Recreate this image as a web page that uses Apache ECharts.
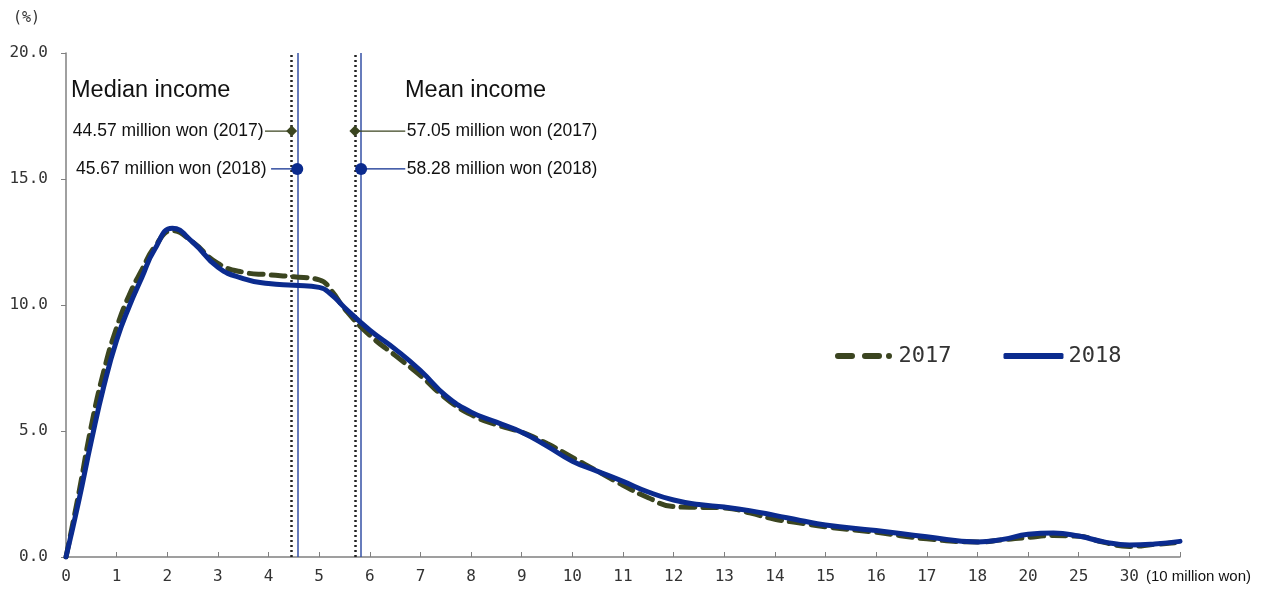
<!DOCTYPE html>
<html>
<head>
<meta charset="utf-8">
<script src="https://cdn.jsdelivr.net/npm/echarts@6/dist/echarts.min.js"></script>
<style>html,body{margin:0;padding:0;background:#fff}#c{width:1262px;height:589px}</style>
</head>
<body>
<div id="c"></div>
<script>
// x positions are category-index positions along the income axis
const xLabels = ['0','1','2','3','4','5','6','7','8','9','10','11','12','13','14','15','16','17','18','20','25','30',''];
const yTicks = [0, 5, 10, 15, 20];
const xs = [0,0.25,0.5,0.75,1,1.25,1.5,1.75,2.1,2.5,3,3.5,4,4.5,5,5.25,5.5,6,6.5,7,7.5,8,8.5,9,9.5,10,10.5,11,11.5,12,12.5,13,13.5,14,14.5,15,16,17,18,18.5,19,19.5,20,20.5,21,21.5,22];
const values2017 = [0,2.5,5.2,7.4,9.1,10.4,11.4,12.3,12.95,12.5,11.65,11.3,11.2,11.12,11.0,10.55,9.85,8.8,8.0,7.2,6.3,5.65,5.25,4.95,4.5,3.95,3.4,2.85,2.35,2.0,1.97,1.95,1.75,1.5,1.35,1.2,0.98,0.72,0.6,0.68,0.78,0.85,0.82,0.58,0.42,0.5,0.58];
const values2018 = [0,2.2,4.6,6.8,8.6,9.95,11.1,12.2,13.05,12.5,11.5,11.05,10.85,10.78,10.7,10.4,9.9,9.0,8.25,7.4,6.4,5.75,5.35,4.95,4.4,3.8,3.4,3.0,2.58,2.26,2.08,1.98,1.84,1.65,1.45,1.27,1.05,0.8,0.6,0.7,0.9,0.95,0.83,0.6,0.48,0.52,0.62];
// median / mean income (index units = 10 million won)
const median = {y2017: 4.457, y2018: 4.567};
const mean = {y2017: 5.705, y2018: 5.828};
const annotY = {y2017: 16.9, y2018: 15.4};
const medianText = ['44.57 million won (2017)', '45.67 million won (2018)'];
const meanText = ['57.05 million won (2017)', '58.28 million won (2018)'];
const medianLeaderStart = [3.93, 4.05];
const meanLeaderEnd = [6.7, 6.7];

const C17 = '#3b4520';
const C18 = '#0b2b8e';
const CV18 = '#3550a6';

const pair = (a) => xs.map((x, i) => [x, a[i]]);

function leader(name, textX, markX, y, text, side, color, symbol, size, dist) {
  return {
    name: name, type: 'line', silent: true, z: 5,
    lineStyle: {color: color, width: 1.3},
    data: [
      {value: [textX, y], symbol: 'circle', symbolSize: 1,
       itemStyle: {color: 'rgba(0,0,0,0)', borderWidth: 0},
       label: {show: true, position: side, distance: dist, formatter: text,
               fontFamily: 'Liberation Sans', fontSize: 17.5, color: '#111'}},
      {value: [markX, y], symbol: symbol, symbolSize: size, itemStyle: {color: color},
       label: {show: false}}
    ]
  };
}

function vline(name, x, style) {
  return {
    name: name, type: 'line', data: [], silent: true, z: 3,
    markLine: {silent: true, symbol: 'none', label: {show: false},
      lineStyle: style, data: [[{coord: [x, 0]}, {coord: [x, 20]}]]}
  };
}

const dotted = {color: '#222', width: 2.5, type: [2, 3]};
const solidBlue = {color: CV18, width: 1.5, type: 'solid'};

const chart = echarts.init(document.getElementById('c'));
chart.setOption({
  animation: false,
  grid: {left: 66, right: 82, top: 53, bottom: 32, containLabel: false},
  legend: {
    left: 830, top: 340, itemWidth: 60, itemHeight: 6, itemGap: 52,
    data: [
      {name: '2017', icon: 'path://M3,0h14a3,3 0 0 1 0,6h-14a3,3 0 0 1 0,-6zM30,0h14a3,3 0 0 1 0,6h-14a3,3 0 0 1 0,-6zM54,0a3,3 0 0 1 0,6a3,3 0 0 1 0,-6z',
       itemStyle: {color: C17}},
      {name: '2018', icon: 'roundRect', itemStyle: {color: C18}}
    ],
    textStyle: {fontFamily: 'DejaVu Sans Mono', fontSize: 22, color: '#333'}
  },
  xAxis: {
    type: 'value', min: 0, max: 22, interval: 1,
    axisLine: {show: true, lineStyle: {color: '#808080', width: 1.5}},
    axisTick: {show: true, inside: true, length: 5, lineStyle: {color: '#808080'}},
    axisLabel: {margin: 12, fontFamily: 'DejaVu Sans Mono', fontSize: 16, color: '#333',
      formatter: (v) => xLabels[Math.round(v)] || ''},
    splitLine: {show: false}
  },
  yAxis: {
    type: 'value', min: yTicks[0], max: yTicks[yTicks.length - 1], interval: 5,
    axisLine: {show: true, lineStyle: {color: '#808080', width: 1.5}},
    axisTick: {show: true, inside: false, length: 5, lineStyle: {color: '#808080'}},
    axisLabel: {margin: 18, fontFamily: 'DejaVu Sans Mono', fontSize: 16, color: '#333',
      formatter: (v) => v.toFixed(1)},
    splitLine: {show: false}
  },
  graphic: [
    {type: 'text', left: 13, top: 11, style: {text: '(%)', font: '15px "DejaVu Sans Mono"', fill: '#333'}},
    {type: 'text', left: 1146, top: 569, style: {text: '(10 million won)', font: '15px "Liberation Sans"', fill: '#111'}},
    {type: 'text', left: 71, top: 79, style: {text: 'Median income', font: '23.5px "Liberation Sans"', fill: '#111'}},
    {type: 'text', left: 405, top: 79, style: {text: 'Mean income', font: '23.5px "Liberation Sans"', fill: '#111'}}
  ],
  series: [
    vline('m17', median.y2017, dotted),
    vline('m18', median.y2018, solidBlue),
    vline('a17', mean.y2017, dotted),
    vline('a18', mean.y2018, solidBlue),
    {
      name: '2017', type: 'line', smooth: 0.5, showSymbol: false, symbol: 'none', z: 6,
      lineStyle: {color: C17, width: 5, type: [14, 8], cap: 'round'},
      itemStyle: {color: C17},
      data: pair(values2017)
    },
    {
      name: '2018', type: 'line', smooth: 0.5, showSymbol: false, symbol: 'none', z: 7,
      lineStyle: {color: C18, width: 5, cap: 'round'},
      itemStyle: {color: C18},
      data: pair(values2018)
    },
    leader('l1', medianLeaderStart[0], median.y2017, annotY.y2017, medianText[0], 'left', C17, 'diamond', 11, 1),
    leader('l2', medianLeaderStart[1], median.y2018, annotY.y2018, medianText[1], 'left', C18, 'circle', 12, 4),
    leader('l3', meanLeaderEnd[0], mean.y2017, annotY.y2017, meanText[0], 'right', C17, 'diamond', 11, 1),
    leader('l4', meanLeaderEnd[1], mean.y2018, annotY.y2018, meanText[1], 'right', C18, 'circle', 12, 1)
  ]
});
</script>
</body>
</html>
